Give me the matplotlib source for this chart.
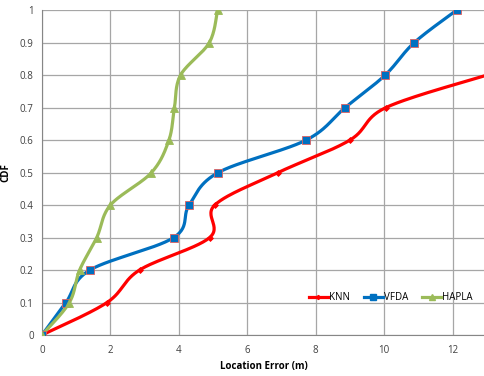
import numpy as np
import matplotlib
matplotlib.use('Agg')
import matplotlib.pyplot as plt

plt.rcParams['font.family'] = ['Open Sans', 'DejaVu Sans']

# data
knn_x = [0, 1.9, 2.85, 4.9, 5.05, 6.9, 9.0, 10.05, 13.0]
knn_y = [0, 0.1, 0.2, 0.3, 0.4, 0.5, 0.6, 0.7, 0.8]
vfda_x = [0, 0.7, 1.4, 3.85, 4.3, 5.15, 7.72, 8.86, 10.03, 10.88, 12.12]
vfda_y = [0, 0.1, 0.2, 0.3, 0.4, 0.5, 0.6, 0.7, 0.8, 0.9, 1.0]
hapla_x = [0, 0.8, 1.1, 1.6, 2.0, 3.2, 3.71, 3.87, 4.05, 4.89, 5.13]
hapla_y = [0, 0.1, 0.2, 0.3, 0.4, 0.5, 0.6, 0.7, 0.8, 0.9, 1.0]

x_ticks = [0, 2, 4, 6, 8, 10, 12]
y_ticks = [0, 0.1, 0.2, 0.3, 0.4, 0.5, 0.6, 0.7, 0.8, 0.9, 1]


def smooth(xs, ys, n=30):
    """Excel-like smoothed line (Catmull-Rom in screen space)"""
    # work in roughly pixel units so the curve bends like Excel's
    px = np.array(xs) * 34.2
    py = np.array(ys) * 325.0
    pts = np.column_stack([px, py])
    pts = np.vstack([pts[0], pts, pts[-1]])
    out = []
    for i in range(1, len(pts) - 2):
        p0, p1, p2, p3 = pts[i - 1], pts[i], pts[i + 1], pts[i + 2]
        t = np.linspace(0, 1, n)[:, None]
        c1 = p1 + (p2 - p0) / 6.0
        c2 = p2 - (p3 - p1) / 6.0
        seg = ((1 - t) ** 3) * p1 + 3 * ((1 - t) ** 2) * t * c1 \
            + 3 * (1 - t) * t ** 2 * c2 + t ** 3 * p2
        out.append(seg)
    out = np.vstack(out)
    return out[:, 0] / 34.2, out[:, 1] / 325.0


fig = plt.figure(figsize=(4.85, 3.76), dpi=100)
ax = fig.add_axes([0.0866, 0.109, 0.917, 0.864])

series = [
    ('KNN', knn_x, knn_y, '#FF0000', 'D', 3, '#FF0000'),
    ('VFDA', vfda_x, vfda_y, '#0070C0', 's', 6, '#E06060'),
    ('HAPLA', hapla_x, hapla_y, '#9BBB59', '^', 6, '#9BBB59'),
]
for name, xs, ys, col, mk, ms, edge in series:
    sx, sy = smooth(xs, ys)
    ax.plot(sx, sy, color=col, lw=2.3, solid_capstyle='round', zorder=3)
    ax.plot(xs, ys, ls='none', marker=mk, ms=ms, color=col,
            markeredgecolor=edge, markeredgewidth=0.6, zorder=4)
    ax.plot([], [], color=col, lw=2.3, marker=mk, ms=ms * 0.7, label=name)

ax.set_xlim(0, 13)
ax.set_ylim(0, 1)
ax.set_xticks(x_ticks)
ax.set_yticks(y_ticks)
ax.set_yticklabels(['0', '0.1', '0.2', '0.3', '0.4', '0.5', '0.6',
                    '0.7', '0.8', '0.9', '1'])
ax.grid(True, color='#A6A6A6', lw=0.9)
ax.set_axisbelow(True)
for s in ['top', 'right']:
    ax.spines[s].set_visible(False)
for s in ['left', 'bottom']:
    ax.spines[s].set_color('#868686')
ax.tick_params(labelsize=7, length=0, labelcolor='#404040')
ax.tick_params(axis='x', pad=7)
ax.tick_params(axis='y', pad=6)
ax.set_xlabel('Location Error (m)', fontsize=7, fontweight='bold')
ax.set_ylabel('CDF', fontsize=7, fontweight='bold')
ax.xaxis.set_label_coords(0.5, -0.079)
ax.yaxis.set_label_coords(-0.068, 0.5)

ax.legend(loc='center left', bbox_to_anchor=(0.58, 0.115), ncol=3,
          frameon=False, fontsize=7, handlelength=2.0, handletextpad=0.1,
          columnspacing=1.4)

fig.savefig('out.png', dpi=100)
